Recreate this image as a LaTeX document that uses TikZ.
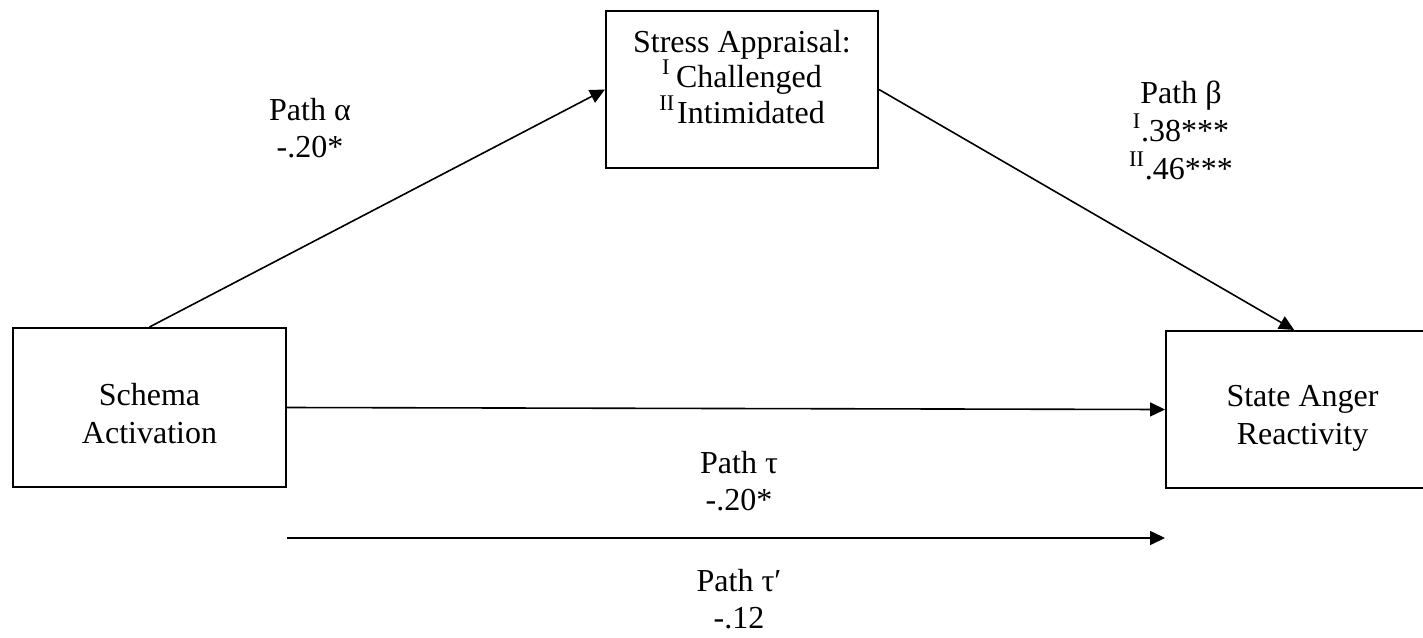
\documentclass[tikz,border=0pt]{standalone}
\usepackage{fontspec}
\setmainfont{Liberation Serif}
\usetikzlibrary{arrows.meta}
\begin{document}
\begin{tikzpicture}[x=0.5pt,y=-0.5pt,
    >={Triangle[length=7.5pt,width=7pt]},
    box/.style={draw,line width=1pt,inner sep=0pt,align=center,
      minimum width=136.5pt,font=\fontsize{16}{19}\selectfont},
    path label/.style={anchor=base,inner sep=0pt,align=center,
      font=\fontsize{16}{18.25}\selectfont},
    link/.style={->,line width=0.8pt}]
    \useasboundingbox (0,0) rectangle (1423,637);
    % the three variables
    \node[box,anchor=north,text height=57.5pt,text depth=22pt] (schema) at (149.5,327) {Schema\\Activation};
    \node[box,anchor=north,text height=56pt,text depth=22.5pt,minimum width=136pt,
      font=\fontsize{16}{17.75}\selectfont] (appraisal) at (742,10)
      {Stress Appraisal:\\\textsuperscript{I}\,Challenged\\\textsuperscript{II}\kern1ptIntimidated};
    \node[box,anchor=north west,text height=56.5pt,text depth=22pt] (anger) at (1165,330) {State Anger\\Reactivity};
    % free ends of the total effect
    \coordinate (total start) at ([yshift=-25pt]schema.south east);
    \coordinate (total end) at ([yshift=-24.5pt]anger.south west);
    % paths
    \draw[link] (schema.north) -- (appraisal.west);
    \draw[link] (appraisal.east) -- (anger.96);
    \draw[link] (schema.east) -- (anger.west);
    \draw[link] (total start) -- (total end);
    %\draw[loosely dotted] (0,0) grid[step=100] (1423,637);
    \node[path label,font=\fontsize{16}{18.5}\selectfont] (alpha label) at (310,157) {Path α\\-.20*};
    \node[path label,font=\fontsize{16}{19}\selectfont] (beta label) at (1181,179)
      {Path β\\\textsuperscript{I}.38***\\\textsuperscript{II}.46***};
    \node[path label] (tau label) at (739,510) {Path τ\\-.20*};
    \node[path label] (tau prime label) at (739,628) {Path τ′\\-.12};
\end{tikzpicture}
\end{document}
